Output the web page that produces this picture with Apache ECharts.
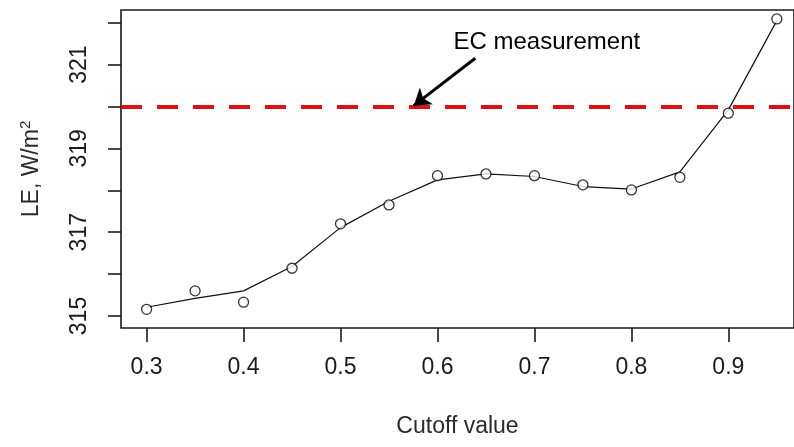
<!DOCTYPE html>
<html lang="en">
<head>
    <meta charset="UTF-8">
    <title>LE vs cutoff</title>
    <script type="text/javascript" src="https://cdn.jsdelivr.net/npm/echarts@6/dist/echarts.min.js"></script>
    <style>
        html, body { margin: 0; padding: 0; background: #fff; }
    </style>
</head>
<body>
<div id="main" style="width:794px;height:447px;"></div>
</body>
<script type="text/javascript">
// cutoff values (x)
var cutoffs = [0.3, 0.35, 0.4, 0.45, 0.5, 0.55, 0.6, 0.65, 0.7, 0.75, 0.8, 0.85, 0.9, 0.95];
// LE points (open circles)
var lePoints = [315.16, 315.60, 315.33, 316.14, 317.20, 317.65, 318.35, 318.39, 318.35, 318.13, 318.01, 318.31, 319.84, 322.09];
// smoothed curve
var leSmooth = [315.21, 315.42, 315.60, 316.18, 317.11, 317.74, 318.25, 318.39, 318.33, 318.09, 318.03, 318.44, 319.92, 322.05];
// EC measurement level
var ecValue = 320;

var xTicks = [0.3, 0.4, 0.5, 0.6, 0.7, 0.8, 0.9];
var yTicks = [315, 316, 317, 318, 319, 320, 321, 322];
var yLabels = [315, 317, 319, 321];

var chart = echarts.init(document.getElementById('main'));

var pointData = [], smoothData = [];
for (var i = 0; i < cutoffs.length; i++) {
    pointData.push([cutoffs[i], lePoints[i]]);
    smoothData.push([cutoffs[i], leSmooth[i]]);
}

var font = 'Liberation Sans, Arial, sans-serif';

var option = {
    animation: false,
    backgroundColor: '#fff',
    grid: {
        left: 121, top: 10, right: -3, bottom: 119,
        show: true, borderColor: '#1a1a1a', borderWidth: 1.6, backgroundColor: 'transparent'
    },
    xAxis: {
        type: 'value',
        min: 0.2736, max: 0.9677,
        name: 'Cutoff value',
        nameLocation: 'middle',
        nameGap: 87,
        nameTextStyle: { fontFamily: font, fontSize: 23, color: '#2a2a2a' },
        axisLine: { show: false },
        splitLine: { show: false },
        axisTick: {
            show: true, length: 14, customValues: xTicks,
            lineStyle: { color: '#1a1a1a', width: 1.6 }
        },
        axisLabel: {
            customValues: xTicks, margin: 28,
            fontFamily: font, fontSize: 23, color: '#1a1a1a',
            formatter: function (v) { return v.toFixed(1); }
        }
    },
    yAxis: {
        type: 'value',
        min: 314.714, max: 322.303,
        name: 'LE, W/m{sup|2}',
        nameLocation: 'middle',
        nameGap: 76,
        nameRotate: 90,
        nameTextStyle: {
            fontFamily: font, fontSize: 23, color: '#2a2a2a',
            rich: { sup: { fontFamily: font, fontSize: 15, verticalAlign: 'top', padding: [0, 0, 12, 0], color: '#2a2a2a' } }
        },
        axisLine: { show: false },
        splitLine: { show: false },
        axisTick: {
            show: true, length: 13, customValues: yTicks,
            lineStyle: { color: '#1a1a1a', width: 1.6 }
        },
        axisLabel: {
            customValues: yLabels, margin: 30, rotate: 90,
            fontFamily: font, fontSize: 23, color: '#1a1a1a'
        }
    },
    series: [
        {
            type: 'line',
            data: smoothData,
            symbol: 'none',
            lineStyle: { color: '#111', width: 1.2 },
            z: 3
        },
        {
            type: 'scatter',
            data: pointData,
            symbol: 'circle',
            symbolSize: 10,
            itemStyle: { color: '#fff', borderColor: '#000', borderWidth: 1.3 },
            z: 4
        },
        {
            type: 'line',
            data: [],
            z: 5,
            markLine: {
                silent: true,
                symbol: ['none', 'none'],
                label: { show: false },
                lineStyle: { color: '#e01010', width: 4, type: [21, 15] },
                data: [{ yAxis: ecValue }]
            }
        },
        {
            type: 'line',
            data: [],
            z: 6,
            markLine: {
                silent: true,
                symbol: ['none', 'arrow'],
                symbolSize: 16,
                label: { show: false },
                itemStyle: { color: '#000' },
                lineStyle: { color: '#000', width: 3, type: 'solid' },
                data: [[{ coord: [0.639, 321.15] }, { coord: [0.5755, 320.02] }]]
            },
            markPoint: {
                silent: true,
                symbol: 'circle',
                symbolSize: 0,
                label: {
                    show: true, position: 'right', distance: 0,
                    formatter: 'EC measurement',
                    fontFamily: font, fontSize: 24, color: '#000'
                },
                data: [{ coord: [0.6165, 321.52] }]
            }
        }
    ]
};

chart.setOption(option);
</script>
</html>
